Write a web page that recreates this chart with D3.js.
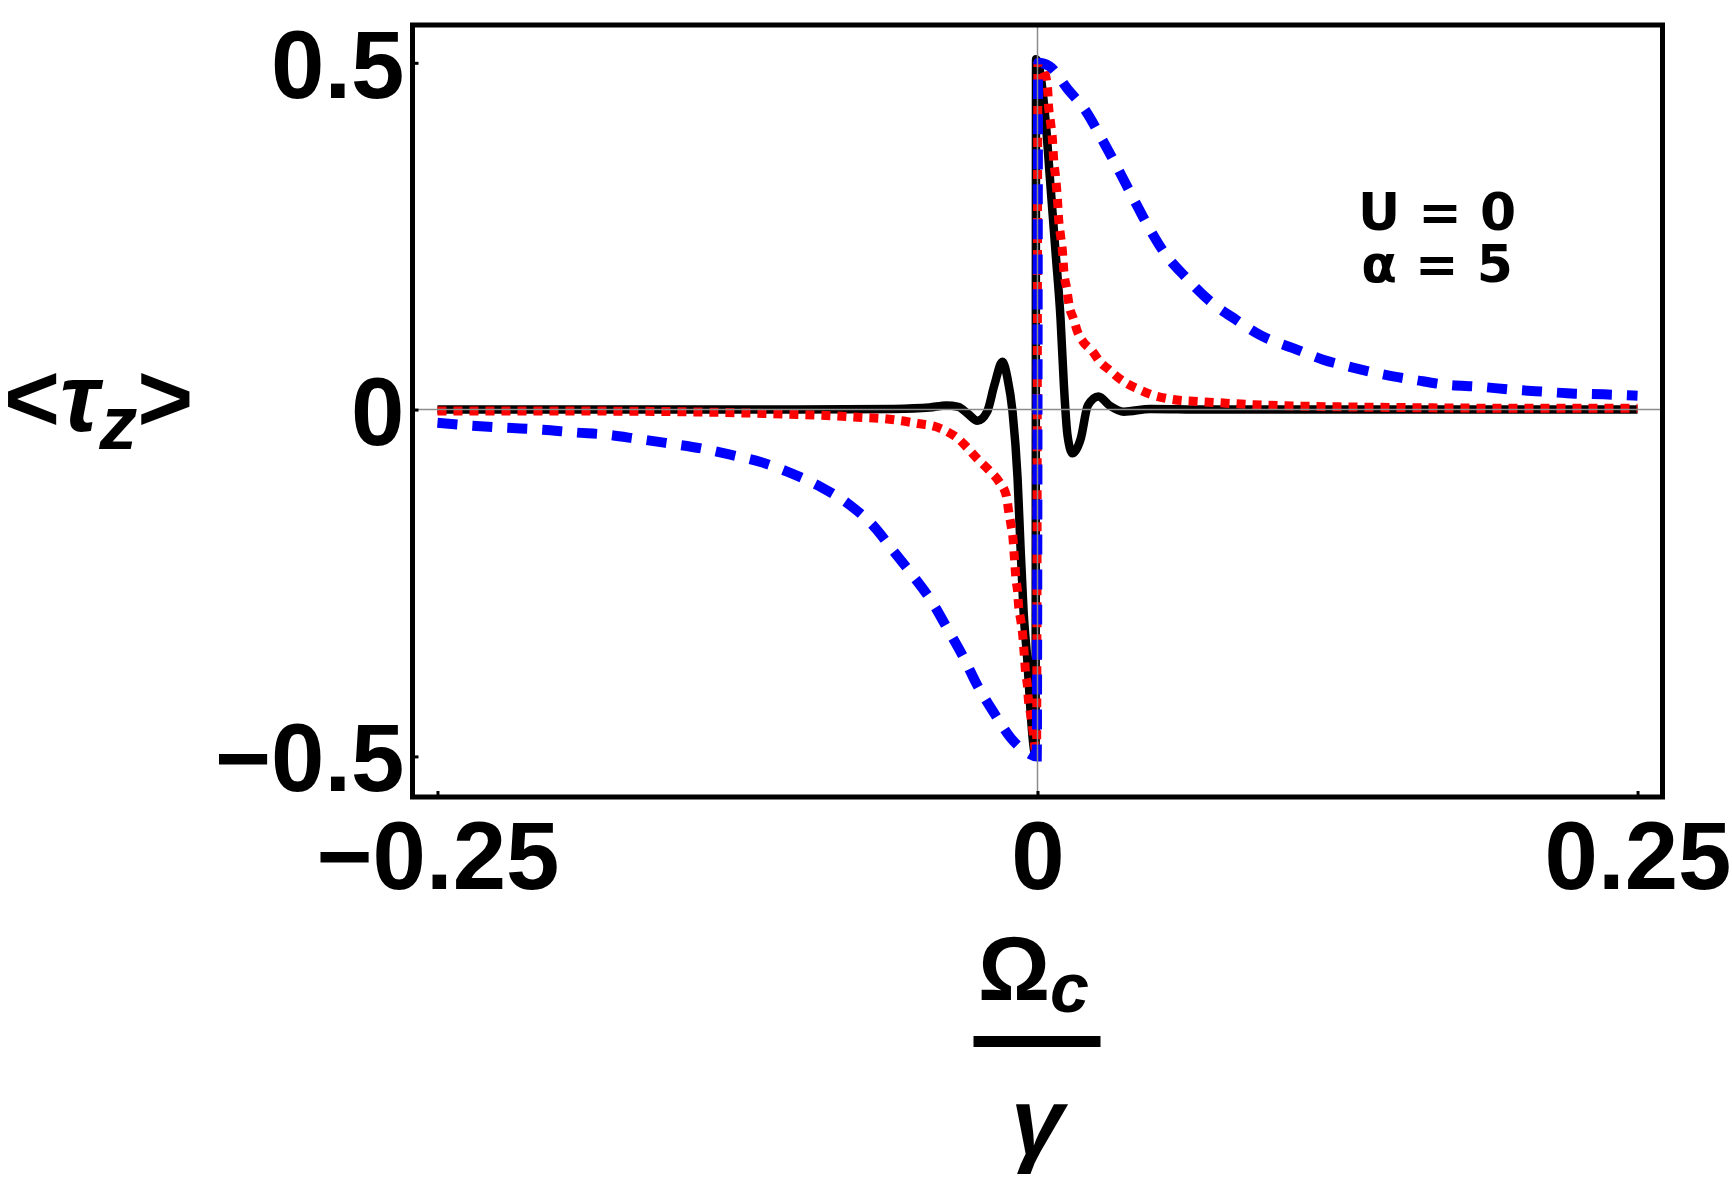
<!DOCTYPE html>
<html>
<head>
<meta charset="utf-8">
<script src="https://cdn.jsdelivr.net/npm/d3@7"></script>
<style>
	body { margin: 0; background: #fff; }
	.tickLabel { font-family: "Liberation Sans", Arial, sans-serif; font-weight: bold; }
	.note { font-family: "DejaVu Sans", sans-serif; font-weight: bold; }
</style>
</head>
<body>
<script>
//<tau_z> against Omega_c / gamma, three curves
(function(){

//tick values
var xTicks = [-0.25, 0, 0.25];
var yTicks = [-0.5, 0, 0.5];

//black solid curve [x, y]
var blackSolid = [
	[-0.25, 0], [-0.1, 0], [-0.06, 0.001], [-0.045, 0.003], [-0.038, 0.006], [-0.033, 0.004],
	[-0.029, -0.006], [-0.025, -0.016], [-0.021, -0.003], [-0.018, 0.035], [-0.0146, 0.069],
	[-0.0125, 0.045], [-0.0104, -0.003], [-0.0083, -0.099], [-0.0071, -0.196], [-0.0058, -0.291],
	[-0.0042, -0.363], [-0.0029, -0.435], [-0.0017, -0.484], [-0.0008, -0.5],
	[-0.0006, 0.505], [0.0033, 0.419], [0.0054, 0.323], [0.0075, 0.228], [0.0096, 0.131],
	[0.011, 0.035], [0.0125, -0.037], [0.0146, -0.063], [0.018, -0.042], [0.021, 0.006],
	[0.0254, 0.019], [0.03, 0.006], [0.036, -0.003], [0.047, 0.001], [0.07, 0], [0.25, 0]
];

//red dotted curve
var redDotted = [
	[-0.25, -0.002], [-0.2, -0.002], [-0.15, -0.003], [-0.12, -0.005], [-0.1, -0.007],
	[-0.085, -0.009], [-0.075, -0.011], [-0.064, -0.013], [-0.057, -0.016], [-0.05, -0.02],
	[-0.043, -0.024], [-0.0375, -0.032], [-0.033, -0.042], [-0.029, -0.056], [-0.025, -0.071],
	[-0.02, -0.088], [-0.016, -0.104], [-0.013, -0.124], [-0.012, -0.147], [-0.011, -0.167],
	[-0.0102, -0.186], [-0.0098, -0.205], [-0.0094, -0.225], [-0.009, -0.244], [-0.0083, -0.262],
	[-0.0079, -0.282], [-0.0071, -0.301], [-0.0063, -0.32], [-0.0058, -0.34], [-0.0054, -0.359],
	[-0.005, -0.378], [-0.0042, -0.398], [-0.0038, -0.418], [-0.003, -0.436], [-0.0021, -0.457],
	[-0.0013, -0.48], [-0.0004, -0.5],
	[0.0002, 0.5], [0.0025, 0.491], [0.0042, 0.463], [0.0046, 0.438], [0.0054, 0.415],
	[0.0063, 0.386], [0.0067, 0.362], [0.0075, 0.337], [0.0083, 0.304], [0.0088, 0.275],
	[0.0096, 0.251], [0.0104, 0.228], [0.011, 0.199], [0.0122, 0.174], [0.0132, 0.15],
	[0.015, 0.131], [0.0167, 0.112], [0.019, 0.098], [0.0229, 0.084], [0.026, 0.069],
	[0.03, 0.057], [0.0333, 0.047], [0.0375, 0.037], [0.043, 0.028], [0.048, 0.021],
	[0.054, 0.016], [0.06, 0.013], [0.065, 0.012], [0.075, 0.01], [0.09, 0.007],
	[0.11, 0.005], [0.15, 0.003], [0.2, 0.002], [0.25, 0.002]
];

//blue dashed curve
var blueDashed = [
	[-0.25, -0.019], [-0.236, -0.023], [-0.222, -0.026], [-0.206, -0.029], [-0.1925, -0.033],
	[-0.18, -0.036], [-0.167, -0.042], [-0.155, -0.048], [-0.14, -0.056], [-0.128, -0.065],
	[-0.115, -0.076], [-0.1025, -0.092], [-0.09, -0.112], [-0.078, -0.138], [-0.068, -0.169],
	[-0.06, -0.204], [-0.052, -0.239], [-0.044, -0.277], [-0.0375, -0.316], [-0.031, -0.356],
	[-0.025, -0.398], [-0.018, -0.438], [-0.011, -0.474], [-0.005, -0.493], [-0.0003, -0.5],
	[0.0003, 0.5], [0.005, 0.495], [0.0125, 0.4625], [0.02, 0.431], [0.027, 0.389],
	[0.034, 0.344], [0.04, 0.304], [0.046, 0.265], [0.0525, 0.228], [0.062, 0.19],
	[0.072, 0.156], [0.0825, 0.13], [0.093, 0.107], [0.107, 0.088], [0.119, 0.072],
	[0.131, 0.061], [0.145, 0.05], [0.157, 0.043], [0.17, 0.036], [0.184, 0.033],
	[0.197, 0.029], [0.21, 0.026], [0.224, 0.023], [0.236, 0.022], [0.25, 0.02]
];

var w = 1732, h = 1191;

var svg = d3.select("body")
	.append("svg")
	.attr("width", w)
	.attr("height", h);

//scales, frame edges sit just outside the +-0.25 / +-0.5 ticks
var xScale = d3.scaleLinear()
	.domain([-0.2604, 0.2604])
	.range([412.5, 1662.5]);

var yScale = d3.scaleLinear()
	.domain([-0.5585, 0.5545])
	.range([797, 25]);

var x0 = xScale.range()[0], x1 = xScale.range()[1];
var y0 = yScale.range()[0], y1 = yScale.range()[1];

//curves: black under red under blue. monotoneX keeps the jump at 0 straight
var line = d3.line()
	.x(function(d){ return xScale(d[0]); })
	.y(function(d){ return yScale(d[1]); })
	.curve(d3.curveMonotoneX);

svg.append("path")
	.datum(blackSolid)
	.attr("d", line)
	.attr("fill", "none")
	.attr("stroke", "#000")
	.attr("stroke-width", 8.5)
	.attr("stroke-linejoin", "round");

svg.append("path")
	.datum(redDotted)
	.attr("d", line)
	.attr("fill", "none")
	.attr("stroke", "#ff0000")
	.attr("stroke-width", 9)
	.attr("stroke-dasharray", "9,7");

svg.append("path")
	.datum(blueDashed)
	.attr("d", line)
	.attr("fill", "none")
	.attr("stroke", "#0000ff")
	.attr("stroke-width", 10)
	.attr("stroke-dasharray", "20,15");

//gray axes through the origin, drawn on top like Mathematica
svg.append("line")
	.attr("x1", x0).attr("x2", x1)
	.attr("y1", yScale(0)).attr("y2", yScale(0))
	.attr("stroke", "#8c8c8c")
	.attr("stroke-width", 1.5);

svg.append("line")
	.attr("x1", xScale(0)).attr("x2", xScale(0))
	.attr("y1", y0).attr("y2", y1)
	.attr("stroke", "#8c8c8c")
	.attr("stroke-width", 1.5);

//axes with inward ticks
var fmt = function(d){ return d === 0 ? "0" : d3.format("")(d).replace("-", "\u2212"); };

var yAxisG = d3.axisLeft(yScale)
	.tickValues(yTicks)
	.tickFormat(fmt)
	.tickSizeInner(-6)
	.tickSizeOuter(0)
	.tickPadding(8);

var yAxis = svg.append("g")
	.attr("transform", "translate(" + x0 + ",0)")
	.call(yAxisG);

var xAxisG = d3.axisBottom(xScale)
	.tickValues(xTicks)
	.tickFormat(fmt)
	.tickSizeInner(-6)
	.tickSizeOuter(0)
	.tickPadding(24);

var xAxis = svg.append("g")
	.attr("transform", "translate(0," + y0 + ")")
	.call(xAxisG);

[xAxis, yAxis].forEach(function(ax){
	ax.select(".domain").remove();
	ax.selectAll(".tick line").attr("stroke", "#000").attr("stroke-width", 3);
	ax.selectAll(".tick text")
		.attr("class", "tickLabel")
		.attr("fill", "#000")
		.style("font-size", "96px");
});
yAxis.selectAll(".tick text").attr("dy", "0.36em");

//frame
svg.append("rect")
	.attr("x", x0).attr("y", y1)
	.attr("width", x1 - x0).attr("height", y0 - y1)
	.attr("fill", "none")
	.attr("stroke", "#000")
	.attr("stroke-width", 5);

//y label <tau_z>
var yLab = svg.append("text")
	.attr("x", 4)
	.attr("y", 431)
	.attr("class", "tickLabel")
	.style("font-size", "96px");
yLab.append("tspan").text("<");
yLab.append("tspan").style("font-style", "italic").text("\u03c4");
yLab.append("tspan").style("font-style", "italic").style("font-size", "76px").attr("dy", 18).text("z");
yLab.append("tspan").attr("dy", -18).text(">");

//x label Omega_c over gamma
var xc = xScale(0);
var num = svg.append("text")
	.attr("x", xc - 4)
	.attr("y", 1000)
	.attr("text-anchor", "middle")
	.attr("class", "tickLabel")
	.style("font-size", "90px");
num.append("tspan").text("\u03a9");
num.append("tspan").style("font-style", "italic").style("font-size", "70px").attr("dy", 12).text("c");

svg.append("rect")
	.attr("x", xc - 64).attr("y", 1036)
	.attr("width", 127).attr("height", 11)
	.attr("fill", "#000");

svg.append("text")
	.attr("x", xc)
	.attr("y", 1154)
	.attr("text-anchor", "middle")
	.attr("class", "tickLabel")
	.style("font-size", "95px")
	.style("font-style", "italic")
	.text("\u03b3");

//parameter note, two lines
var note1 = svg.append("text")
	.attr("class", "note")
	.attr("text-anchor", "middle")
	.attr("x", 1437).attr("y", 230)
	.style("font-size", "52px")
	.text("U = 0");
var note2 = svg.append("text")
	.attr("class", "note")
	.attr("text-anchor", "middle")
	.attr("x", 1437).attr("y", 282)
	.style("font-size", "52px")
	.text("\u03b1 = 5");

})();
</script>
</body>
</html>
